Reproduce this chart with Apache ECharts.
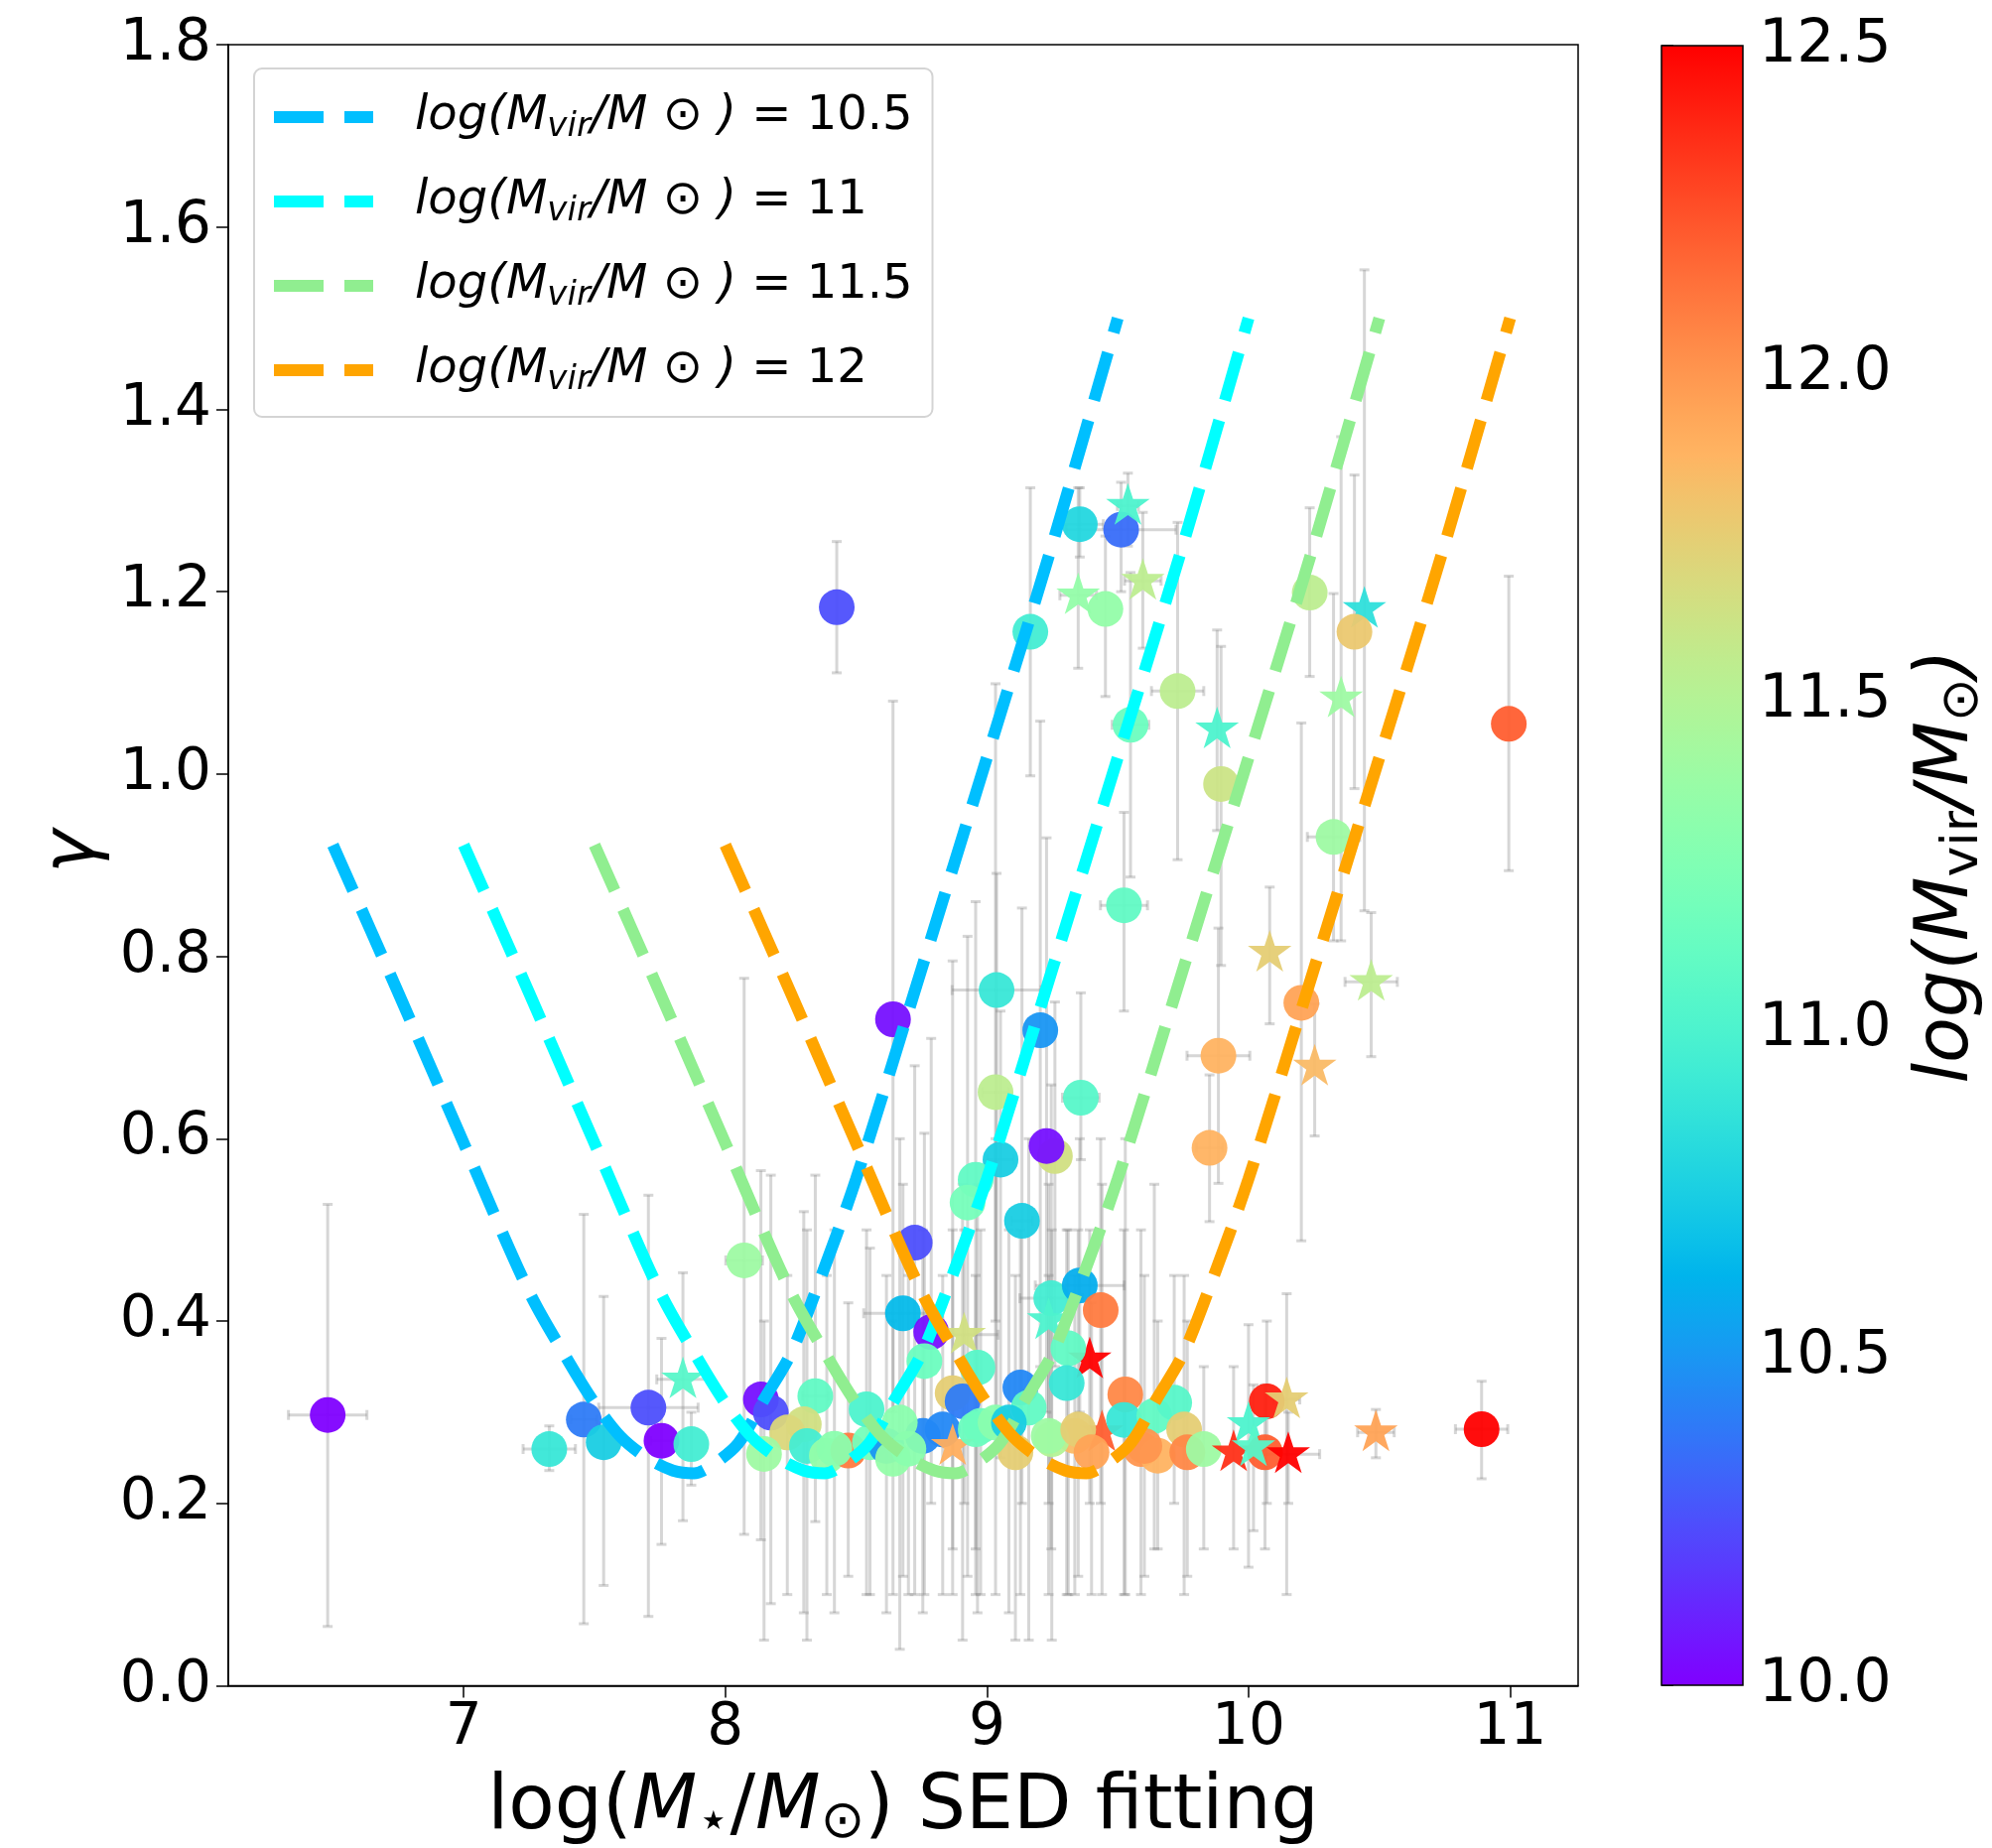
<!DOCTYPE html>
<html><head><meta charset="utf-8">
<script src="https://cdn.jsdelivr.net/npm/echarts@6/dist/echarts.min.js"></script>
<style>html,body{margin:0;padding:0;background:#fff}#c{width:2007px;height:1862px}</style>
</head><body><div id="c"></div>
<script>
// ---- model curves ----
const c105X = [6.50,6.75,7.00,7.25,7.40,7.50,7.60,7.70,7.80,7.88,7.95,8.05,8.15,8.25,8.35,8.50,8.75,9.00,9.25,9.50];
const c105Y = [0.922,0.760,0.595,0.432,0.356,0.310,0.273,0.250,0.236,0.233,0.242,0.266,0.315,0.364,0.436,0.556,0.786,1.018,1.252,1.500];
const c11X  = [7.00,7.25,7.50,7.75,7.90,8.00,8.10,8.20,8.30,8.38,8.45,8.55,8.65,8.75,8.85,9.00,9.25,9.50,9.75,10.00];
const c11Y  = [0.922,0.760,0.595,0.432,0.356,0.310,0.273,0.250,0.236,0.233,0.242,0.266,0.315,0.364,0.436,0.556,0.786,1.018,1.252,1.500];
const c115X = [7.50,7.75,8.00,8.25,8.40,8.50,8.60,8.70,8.80,8.88,8.95,9.05,9.15,9.25,9.35,9.50,9.75,10.00,10.25,10.50];
const c115Y = [0.922,0.760,0.595,0.432,0.356,0.310,0.273,0.250,0.236,0.233,0.242,0.266,0.315,0.364,0.436,0.556,0.786,1.018,1.252,1.500];
const c12X  = [8.00,8.25,8.50,8.75,8.90,9.00,9.10,9.20,9.30,9.38,9.45,9.55,9.65,9.75,9.85,10.00,10.25,10.50,10.75,11.00];
const c12Y  = [0.922,0.760,0.595,0.432,0.356,0.310,0.273,0.250,0.236,0.233,0.242,0.266,0.315,0.364,0.436,0.556,0.786,1.018,1.252,1.500];
const curveNames = ['10.5','11','11.5','12'];

// ---- galaxies ----
const ptX = [6.48,8.426,9.355,9.513,9.539,9.349,9.453,9.596,9.166,10.234,10.443,10.405,10.354,10.995,9.729,9.549,9.880,9.895,10.325,9.524,
 10.081,10.469,10.202,10.253,9.885,9.851,8.641,9.037,9.204,9.033,9.359,9.26,9.228,9.052,8.957,8.926,9.134,8.724,8.679,8.787,
 8.913,8.761,8.964,8.869,8.907,9.128,9.16,9.246,9.355,9.435,9.236,9.393,9.311,9.305,9.529,9.44,9.524,9.336,9.248,9.109,
 9.589,9.653,9.640,8.755,8.831,8.976,7.327,7.459,7.535,7.706,7.756,7.870,7.838,8.072,8.136,8.174,8.344,8.30,8.237,8.148,
 8.312,8.388,8.47,8.417,8.553,8.54,8.616,8.667,8.641,8.70,8.869,8.957,9.033,9.084,9.236,9.349,9.40,9.602,9.716,9.754,
 9.766,9.829,10.07,10.146,10.0,9.943,10.063,10.019,10.152,10.487,10.891];
const ptY = [0.297,1.183,1.274,1.268,1.294,1.196,1.181,1.212,1.156,1.199,1.181,1.156,1.083,1.055,1.091,1.054,1.049,0.989,0.931,0.856,
 0.804,0.772,0.749,0.679,0.691,0.590,0.731,0.763,0.719,0.651,0.645,0.581,0.592,0.577,0.555,0.530,0.510,0.486,0.4085,0.388,
 0.385,0.356,0.349,0.321,0.312,0.327,0.305,0.425,0.439,0.412,0.401,0.358,0.370,0.332,0.3195,0.278,0.2915,0.274,0.2705,0.256,
 0.2596,0.2523,0.296,0.274,0.281,0.285,0.2596,0.292,0.267,0.305,0.2687,0.265,0.336,0.4665,0.314,0.2996,0.3177,0.2868,0.2778,0.2542,
 0.263,0.2523,0.258,0.26,0.267,0.3032,0.263,0.2887,0.249,0.26,0.263,0.2814,0.2887,0.2887,0.274,0.281,0.256,0.263,0.3105,0.281,
 0.256,0.2596,0.312,0.314,0.287,0.256,0.256,0.2615,0.254,0.278,0.2814];
const ptMvir = [10.0,10.25,10.8,10.35,11.0,11.35,11.35,11.55,10.95,11.55,10.85,11.78,11.4,12.2,11.55,11.15,11.0,11.62,11.4,11.1,
 11.75,11.55,11.95,11.85,11.88,11.88,10.05,10.9,10.5,11.55,11.05,11.65,10.05,10.75,11.1,11.2,10.75,10.25,10.65,10.05,
 11.65,11.15,11.05,11.75,10.4,10.45,11.1,10.95,10.6,12.1,11.0,12.5,11.1,10.9,12.05,12.2,10.9,11.85,11.5,11.75,
 12.0,11.88,11.1,10.45,10.45,11.15,10.9,10.4,10.75,10.25,10.0,10.95,11.05,11.4,10.05,10.25,11.1,11.65,11.7,11.4,
 10.95,11.35,12.1,11.3,11.2,11.0,10.5,11.3,11.35,11.3,11.9,11.15,11.3,10.75,11.4,11.75,11.95,12.0,11.05,11.75,
 12.05,11.4,12.4,11.75,11.0,12.35,12.2,11.05,12.5,11.95,12.5];
const ptShape = ['o','o','o','o','*','*','o','*','o','o','*','o','*','o','o','o','*','o','o','o',
 '*','*','o','*','o','o','o','o','o','o','o','o','o','o','o','o','o','o','o','o',
 '*','o','o','o','o','o','o','o','o','o','*','*','o','o','o','*','o','o','o','o',
 'o','o','o','o','o','o','o','o','o','o','o','o','*','o','o','o','o','o','o','o',
 'o','o','o','o','o','o','o','o','o','o','*','o','o','o','o','o','o','o','o','o',
 'o','o','o','*','*','*','o','*','*','*','o'];
const ptYlo = [0.065,1.111,1.238,1.20,1.25,1.116,1.085,1.138,0.998,1.107,0.85,0.984,0.817,0.894,0.906,0.887,0.938,0.79,0.817,0.74,
 0.726,0.690,0.488,0.603,0.551,0.509,0.30,0.30,0.35,0.40,0.577,0.35,0.30,0.25,0.15,0.12,0.20,0.10,0.12,0.20,
 0.20,0.10,0.08,0.15,0.05,0.10,0.05,0.15,0.30,0.20,0.20,0.20,0.10,0.10,0.10,0.10,0.10,0.10,0.05,0.05,
 0.10,0.15,0.15,0.08,0.10,0.10,0.236,0.068,0.110,0.076,0.155,0.22,0.181,0.166,0.16,0.09,0.18,0.08,0.10,0.05,
 0.05,0.10,0.12,0.08,0.10,0.10,0.08,0.04,0.10,0.10,0.10,0.10,0.10,0.08,0.10,0.12,0.10,0.12,0.20,0.10,
 0.12,0.15,0.20,0.10,0.13,0.15,0.15,0.17,0.20,0.25,0.227];
const ptYhi = [0.528,1.255,1.314,1.32,1.33,1.314,1.261,1.287,1.314,1.292,1.553,1.328,1.37,1.217,1.276,1.221,1.158,1.14,1.198,0.958,
 0.876,0.848,1.056,0.748,0.831,0.670,1.08,0.891,1.058,1.099,0.760,0.75,0.93,0.74,0.86,0.822,0.853,0.68,0.55,0.71,
 0.50,0.606,0.55,0.795,0.55,0.50,0.60,0.659,0.60,0.60,0.55,0.50,0.50,0.50,0.60,0.55,0.50,0.45,0.50,0.45,
 0.50,0.40,0.55,0.50,0.45,0.50,0.285,0.517,0.427,0.538,0.381,0.30,0.453,0.776,0.565,0.56,0.56,0.52,0.45,0.40,
 0.50,0.45,0.42,0.50,0.48,0.50,0.45,0.60,0.40,0.45,0.50,0.45,0.60,0.50,0.45,0.50,0.42,0.45,0.45,0.45,
 0.40,0.35,0.40,0.43,0.396,0.35,0.33,0.33,0.30,0.303,0.334];
const ptXerr = [0.15,0,0.09,0.21,0.04,0.07,0,0.07,0,0,0,0,0,0,0.1,0.07,0,0,0.1,0.09,
 0,0.1,0,0,0.12,0.05,0,0.17,0,0.05,0.07,0,0,0.05,0,0,0.04,0,0.15,0,
 0.13,0,0,0,0,0,0,0.12,0.17,0,0,0,0,0,0,0,0,0,0,0,
 0,0,0,0,0,0,0.1,0.05,0,0.19,0.04,0,0.1,0.07,0,0,0.05,0,0,0,
 0,0,0,0,0,0,0,0,0,0,0,0,0,0,0,0,0,0,0,0,
 0,0,0,0.05,0,0,0,0,0.12,0.07,0.1];

// ---- colour bar ticks ----
const cbTicks = ['10.0','10.5','11.0','11.5','12.0','12.5'];

// matplotlib "rainbow" colormap (style only)
function rainbow(t){
  const cl = v => Math.max(0, Math.min(1, v));
  const r = cl(Math.abs(2*t-0.5)), g = cl(Math.sin(Math.PI*t)), b = cl(Math.cos(Math.PI*t/2));
  return 'rgb(' + Math.round(r*255) + ',' + Math.round(g*255) + ',' + Math.round(b*255) + ')';
}
const cmap = []; for (let i = 0; i <= 40; i++) cmap.push(rainbow(i/40));
const gradStops = []; for (let i = 0; i <= 40; i++) gradStops.push({offset: i/40, color: rainbow(1 - i/40)});

const FONT = 'DejaVu Sans';
const STAR = 'path://M0,-100L22.45,-30.9L95.1,-30.9L36.33,11.8L58.8,80.9L0,38.2L-58.8,80.9L-36.33,11.8L-95.1,-30.9L-22.45,-30.9Z';

const scatterData = ptX.map((x, i) => {
  const star = ptShape[i] === '*';
  return {value: [x, ptY[i], ptMvir[i]], symbol: star ? STAR : 'circle',
          symbolSize: star ? [44, 42] : 36, symbolOffset: star ? [0, -2] : [0, 0]};
});
const errData = ptX.map((x, i) => [x, ptY[i], ptYlo[i], ptYhi[i], ptXerr[i]]);

const curves = [[c105X, c105Y, '#00BFFF'], [c11X, c11Y, '#00FFFF'], [c115X, c115Y, '#90EE90'], [c12X, c12Y, '#FFA500']];
const lineSeries = curves.map((c, k) => ({
  type: 'line', name: curveNames[k], xAxisIndex: 0, yAxisIndex: 0,
  data: c[0].map((x, i) => [x, c[1][i]]), symbol: 'none', smooth: 0.3, z: 5,
  color: c[2], itemStyle: {color: c[2]},
  lineStyle: {color: c[2], width: 12, type: [50, 21], cap: 'butt'}
}));

const chart = echarts.init(document.getElementById('c'), null, {renderer: 'canvas'});
const ebStyle = {stroke: 'rgba(128,128,128,0.32)', lineWidth: 3};
const option = {
  animation: false,
  backgroundColor: '#fff',
  grid: [
    {left: 230, top: 45, width: 1360, height: 1653.5, show: true, borderColor: '#000', borderWidth: 1.5, backgroundColor: 'transparent'},
    {left: 1674, top: 46, width: 82, height: 1652}
  ],
  xAxis: [
    {type: 'value', gridIndex: 0, min: 6.1, max: 11.26, splitLine: {show: false},
     axisLine: {show: true, lineStyle: {color: '#000', width: 1.5}},
     axisTick: {show: true, customValues: [7, 8, 9, 10, 11], length: 12, lineStyle: {color: '#000', width: 1.5}},
     axisLabel: {customValues: [7, 8, 9, 10, 11], fontSize: 58, fontFamily: FONT, color: '#000', margin: 14}},
    {type: 'value', gridIndex: 1, min: 0, max: 1, show: false}
  ],
  yAxis: [
    {type: 'value', gridIndex: 0, min: 0, max: 1.8, interval: 0.2, splitLine: {show: false},
     axisLine: {show: true, lineStyle: {color: '#000', width: 1.5}},
     axisTick: {show: true, length: 12, lineStyle: {color: '#000', width: 1.5}},
     axisLabel: {fontSize: 58, fontFamily: FONT, color: '#000', margin: 17, formatter: v => v.toFixed(1)}},
    {type: 'value', gridIndex: 1, min: 10, max: 12.5, interval: 0.5, position: 'right', splitLine: {show: false},
     axisLine: {show: false},
     axisTick: {show: true, length: 12, lineStyle: {color: '#000', width: 1.5}},
     axisLabel: {fontSize: 60, fontFamily: FONT, color: '#000', margin: 16,
                 formatter: v => cbTicks[Math.round((v - 10) / 0.5)]}}
  ],
  visualMap: {show: false, type: 'continuous', min: 10, max: 12.5, dimension: 2, seriesIndex: 1, inRange: {color: cmap}},
  legend: {
    data: curveNames, orient: 'vertical', left: 256, top: 69,
    itemWidth: 100, itemHeight: 12, itemGap: 31,
    icon: 'path://M0,0h50v12h-50z M71,0h29v12h-29z',
    padding: [22, 20, 20, 20],
    backgroundColor: 'rgba(255,255,255,0.85)', borderColor: '#d4d4d4', borderWidth: 2, borderRadius: 8,
    formatter: n => '{a|log(M}{sub|vir}{it|/M ⊙ )}{n| = ' + n + '}',
    textStyle: {color: '#000', fontFamily: FONT, fontSize: 48, rich: {
      a: {fontFamily: FONT, fontStyle: 'italic', fontSize: 48, lineHeight: 56, color: '#000', padding: [0, 0, 0, 37]},
      it: {fontFamily: FONT, fontStyle: 'italic', fontSize: 48, lineHeight: 56, color: '#000'},
      sub: {fontFamily: FONT, fontStyle: 'italic', fontSize: 34, lineHeight: 36, color: '#000', padding: [20, 0, 0, 0]},
      n: {fontFamily: FONT, fontSize: 48, lineHeight: 56, color: '#000'}
    }}
  },
  graphic: [
    {type: 'text', x: 910, y: 1822, z: 10, style: {
      text: '{n|log(}{i|M}{s|⋆}{n|/}{i|M}{s|⊙}{n|) SED fitting}',
      align: 'center', verticalAlign: 'middle', fill: '#000',
      rich: {
        n: {fontFamily: FONT, fontSize: 76, lineHeight: 88, fill: '#000'},
        i: {fontFamily: FONT, fontStyle: 'italic', fontSize: 76, lineHeight: 88, fill: '#000'},
        s: {fontFamily: FONT, fontSize: 53, lineHeight: 58, padding: [30, 0, 0, 0], fill: '#000'}
      }}},
    {type: 'text', x: 75, y: 858, rotation: Math.PI / 2, z: 10, style: {
      text: 'γ', align: 'center', verticalAlign: 'middle', fill: '#000',
      fontFamily: FONT, fontStyle: 'italic', fontSize: 74}},
    {type: 'text', x: 1963, y: 873, rotation: Math.PI / 2, z: 10, style: {
      text: '{i|log(M}{s|vir}{i|/M}{s|⊙}{i|)}',
      align: 'center', verticalAlign: 'middle', fill: '#000',
      rich: {
        i: {fontFamily: FONT, fontStyle: 'italic', fontSize: 75, lineHeight: 86, fill: '#000'},
        s: {fontFamily: FONT, fontSize: 52, lineHeight: 56, padding: [30, 0, 0, 0], fill: '#000'}
      }}}
  ],
  series: [
    {type: 'custom', xAxisIndex: 0, yAxisIndex: 0, z: 1, data: errData,
     dimensions: ['x', 'y', 'lo', 'hi', 'xe'], encode: {x: 0, y: 1},
     renderItem: (params, api) => {
       const x = api.value(0), y = api.value(1), lo = api.value(2), hi = api.value(3), xe = api.value(4);
       const a = api.coord([x, lo]), b = api.coord([x, hi]);
       const ch = [
         {type: 'line', shape: {x1: a[0], y1: a[1], x2: b[0], y2: b[1]}, style: ebStyle},
         {type: 'line', shape: {x1: a[0] - 5, y1: a[1], x2: a[0] + 5, y2: a[1]}, style: ebStyle},
         {type: 'line', shape: {x1: b[0] - 5, y1: b[1], x2: b[0] + 5, y2: b[1]}, style: ebStyle}
       ];
       if (xe > 0) {
         const l = api.coord([x - xe, y]), r = api.coord([x + xe, y]);
         ch.push({type: 'line', shape: {x1: l[0], y1: l[1], x2: r[0], y2: r[1]}, style: ebStyle});
         ch.push({type: 'line', shape: {x1: l[0], y1: l[1] - 5, x2: l[0], y2: l[1] + 5}, style: ebStyle});
         ch.push({type: 'line', shape: {x1: r[0], y1: r[1] - 5, x2: r[0], y2: r[1] + 5}, style: ebStyle});
       }
       return {type: 'group', children: ch};
     }},
    {type: 'scatter', xAxisIndex: 0, yAxisIndex: 0, z: 2, data: scatterData, itemStyle: {opacity: 0.95}},
    ...lineSeries,
    {type: 'custom', xAxisIndex: 1, yAxisIndex: 1, data: [[0, 10]], encode: {x: 0, y: 1}, z: 2,
     renderItem: (params, api) => {
       const p0 = api.coord([0, 12.5]), p1 = api.coord([1, 10]);
       return {type: 'rect', shape: {x: p0[0], y: p0[1], width: p1[0] - p0[0], height: p1[1] - p0[1]},
               style: {fill: new echarts.graphic.LinearGradient(0, 0, 0, 1, gradStops), stroke: '#000', lineWidth: 1.5}};
     }}
  ]
};
chart.setOption(option);
</script></body></html>
